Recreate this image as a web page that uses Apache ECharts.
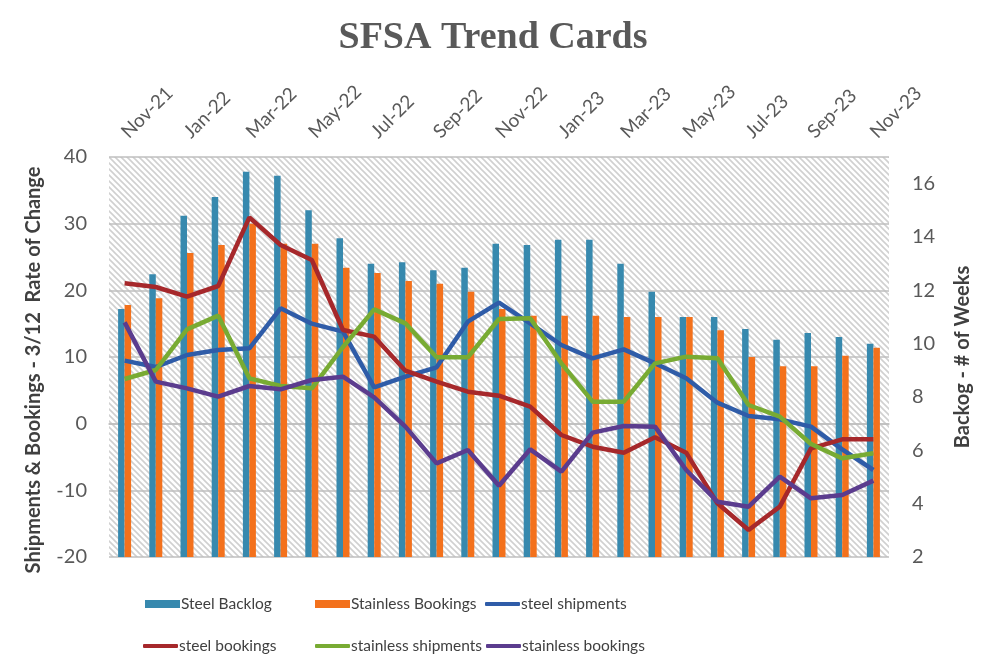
<!DOCTYPE html>
<html>
<head>
<meta charset="utf-8">
<script src="https://cdn.jsdelivr.net/npm/echarts@6/dist/echarts.min.js"></script>
<style>
  html, body { margin: 0; padding: 0; background: #fff; }
  #chart-main { width: 986px; height: 668px; }
</style>
</head>
<body>
<div id="chart-main"></div>
<script>
// months along the top axis
const months = ['Nov-21', 'Dec-21', 'Jan-22', 'Feb-22', 'Mar-22', 'Apr-22', 'May-22', 'Jun-22', 'Jul-22',
  'Aug-22', 'Sep-22', 'Oct-22', 'Nov-22', 'Dec-22', 'Jan-23', 'Feb-23', 'Mar-23', 'Apr-23', 'May-23',
  'Jun-23', 'Jul-23', 'Aug-23', 'Sep-23', 'Oct-23', 'Nov-23']

// bars, right axis (weeks)
const steelBacklog = [11.3, 12.6, 14.8, 15.5, 16.45, 16.3, 15.0, 13.95, 13.0, 13.05, 12.75, 12.85, 13.75,
  13.7, 13.9, 13.9, 13.0, 11.95, 11.0, 11.0, 10.55, 10.15, 10.4, 10.25, 10.0]
const stainlessBookingsBar = [11.45, 11.7, 13.4, 13.7, 14.5, 13.75, 13.75, 12.85, 12.65, 12.35, 12.25, 11.95,
  11.3, 11.05, 11.05, 11.05, 11.0, 11.0, 11.0, 10.5, 9.5, 9.15, 9.15, 9.55, 9.85]

// lines, left axis (3/12 rate of change)
const steelShipments = [9.45, 8.5, 10.3, 11.05, 11.3, 17.3, 15.0, 13.8, 5.45, 7.05, 8.45, 15.3, 18.15, 15.05,
  11.8, 9.8, 11.15, 9.05, 6.8, 3.15, 1.15, 0.65, -0.45, -3.85, -6.95]
const steelBookings = [21.05, 20.5, 19.05, 20.65, 30.95, 26.8, 24.55, 14.05, 13.05, 7.95, 6.3, 4.8, 4.2, 2.55,
  -1.7, -3.45, -4.35, -2.05, -4.35, -11.95, -15.95, -12.45, -3.7, -2.35, -2.35]
const stainlessShipments = [6.7, 8.05, 14.15, 16.2, 6.8, 5.65, 5.3, 11.5, 17.15, 15.05, 9.95, 9.95, 15.7, 15.8,
  9.05, 3.3, 3.3, 9.05, 10.05, 9.8, 2.8, 1.05, -3.05, -5.2, -4.45]
const stainlessBookings = [15.2, 6.3, 5.3, 4.05, 5.65, 5.15, 6.55, 7.05, 3.95, -0.45, -5.95, -3.95, -9.3, -3.85,
  -7.2, -1.35, -0.35, -0.45, -6.95, -11.7, -12.45, -7.95, -11.2, -10.7, -8.55]

const font = 'Lato, "Open Sans", sans-serif'
const grey = '#595959'

// hatched plot background
function hatch() {
  const s = 6
  const c = document.createElement('canvas')
  c.width = s
  c.height = s
  const ctx = c.getContext('2d')
  ctx.fillStyle = '#ffffff'
  ctx.fillRect(0, 0, s, s)
  ctx.strokeStyle = '#d0d0d0'
  ctx.lineWidth = 1.6
  ctx.beginPath()
  ctx.moveTo(-1, -1); ctx.lineTo(s + 1, s + 1)
  ctx.moveTo(-1, s - 1); ctx.lineTo(1, s + 1)
  ctx.moveTo(s - 1, -1); ctx.lineTo(s + 1, 1)
  ctx.stroke()
  return c
}

function legendAt(name, left, top, isBar) {
  return {
    data: [name],
    left: left,
    top: top,
    padding: 0,
    itemWidth: 35,
    itemHeight: isBar ? 8 : 4,
    icon: isBar ? 'rect' : 'roundRect',
    textStyle: { fontFamily: font, fontSize: 15.5, color: '#404040', padding: [0, 0, 0, -4] },
    selectedMode: false
  }
}

function line(name, data, color) {
  return {
    name: name,
    type: 'line',
    yAxisIndex: 0,
    data: data,
    symbol: 'none',
    lineStyle: { width: 4.5, color: color },
    itemStyle: { color: color },
    z: 5
  }
}

const myChart = echarts.init(document.getElementById('chart-main'))
myChart.setOption({
  animation: false,
  title: {
    text: 'SFSA Trend Cards',
    left: 'center',
    top: 14,
    textStyle: { fontFamily: '"Liberation Serif", serif', fontWeight: 'bold', fontSize: 38, color: grey }
  },
  legend: [
    legendAt('Steel Backlog', 145, 596, true),
    legendAt('Stainless Bookings', 315, 596, true),
    legendAt('steel shipments', 485, 596, false),
    legendAt('steel bookings', 143, 638, false),
    legendAt('stainless shipments', 315, 638, false),
    legendAt('stainless bookings', 486, 638, false)
  ],
  grid: {
    left: 109,
    right: 97,
    top: 157,
    bottom: 111,
    show: true,
    borderWidth: 0,
    backgroundColor: { image: hatch(), repeat: 'repeat' },
    outerBoundsMode: 'none'
  },
  xAxis: {
    type: 'category',
    position: 'top',
    data: months,
    boundaryGap: true,
    axisLine: { lineStyle: { color: '#bfbfbf', width: 1.5 } },
    axisTick: { interval: 1, length: 6, lineStyle: { color: '#bfbfbf', width: 1.5 } },
    axisLabel: { interval: 1, rotate: 45, margin: 22, fontFamily: font, fontSize: 19, color: grey }
  },
  yAxis: [
    {
      type: 'value',
      min: -20,
      max: 40,
      interval: 10,
      name: 'Shipments & Bookings - 3/12  Rate of Change',
      nameLocation: 'middle',
      nameRotate: 90,
      nameGap: 65,
      nameTextStyle: { fontFamily: font, fontWeight: 'bold', fontSize: 20, color: '#404040', padding: [0, 26, 0, 0] },
      axisLine: { show: false },
      axisTick: { show: false },
      axisLabel: { margin: 22, fontFamily: font, fontSize: 20, color: grey },
      splitLine: { lineStyle: { color: '#bfbfbf', width: 1.5 } }
    },
    {
      type: 'value',
      min: 2,
      max: 17,
      interval: 2,
      name: 'Backog - # of Weeks',
      nameLocation: 'middle',
      nameRotate: 90,
      nameGap: 64,
      nameTextStyle: { fontFamily: font, fontWeight: 'bold', fontSize: 20, color: '#404040' },
      axisLine: { show: false },
      axisTick: { show: false },
      axisLabel: { margin: 23, fontFamily: font, fontSize: 20, color: grey, showMaxLabel: false },
      splitLine: { show: false }
    }
  ],
  series: [
    {
      name: 'Steel Backlog',
      type: 'bar',
      yAxisIndex: 1,
      data: steelBacklog,
      barWidth: 6.5,
      barGap: '0%',
      itemStyle: { color: '#3789ae' }
    },
    {
      name: 'Stainless Bookings',
      type: 'bar',
      yAxisIndex: 1,
      data: stainlessBookingsBar,
      barWidth: 6.5,
      barGap: '0%',
      itemStyle: { color: '#f3711c' }
    },
    line('steel shipments', steelShipments, '#2f5ca8'),
    line('steel bookings', steelBookings, '#a6282b'),
    line('stainless shipments', stainlessShipments, '#78ab33'),
    line('stainless bookings', stainlessBookings, '#5b3c8e')
  ]
})
</script>
</body>
</html>
